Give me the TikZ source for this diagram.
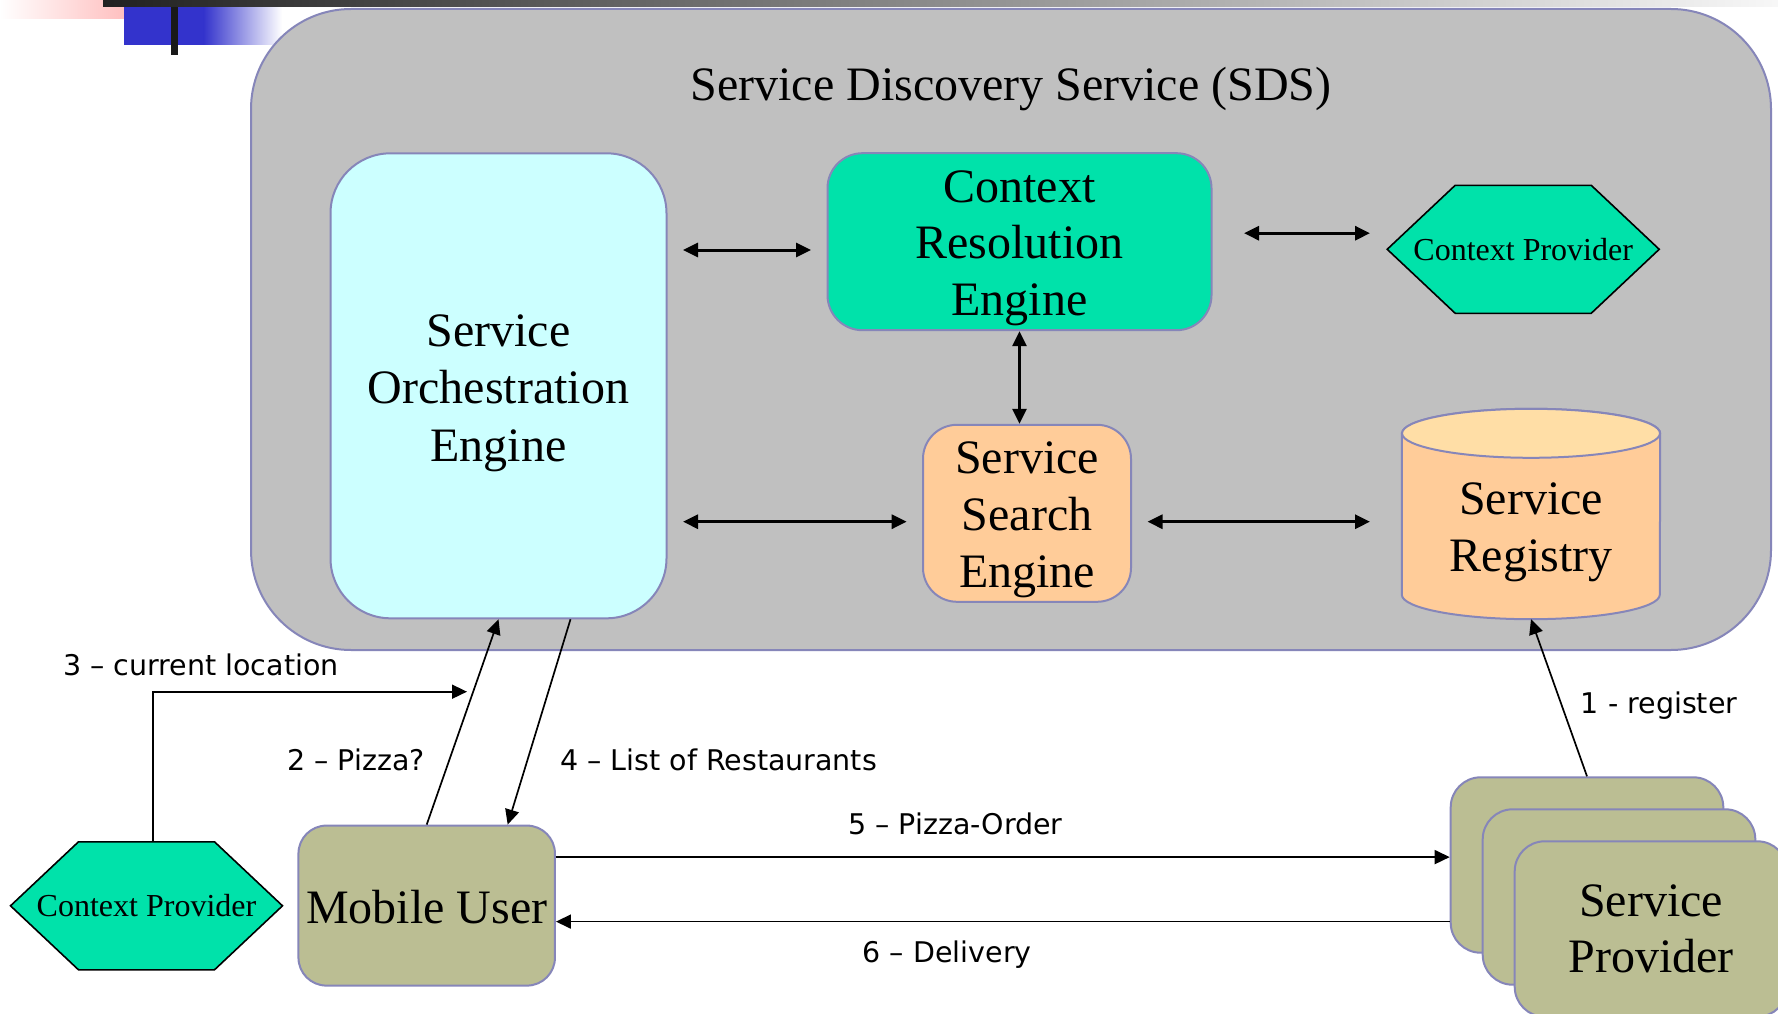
\documentclass[tikz,border=0pt]{standalone}
\usepackage{fontspec}
\setmainfont{Liberation Serif}
\newfontfamily\lblfont{DejaVu Sans}
\usetikzlibrary{arrows.meta}
\definecolor{sdsgray}{HTML}{C0C0C0}
\definecolor{edge}{HTML}{8686B9}
\definecolor{orchfill}{HTML}{CCFFFF}
\definecolor{mint}{HTML}{00E2AA}
\definecolor{peach}{HTML}{FFCC99}
\definecolor{peachtop}{HTML}{FFDEA6}
\definecolor{olive}{HTML}{BBBE93}
\definecolor{barblue}{HTML}{3333CC}
\definecolor{barpink}{HTML}{FFB0B0}

\begin{document}
\begin{tikzpicture}[x=1pt,y=-1pt,
  box/.style={draw=edge, line width=2pt, inner sep=0pt},
  big/.style={font=\fontsize{48}{57}\selectfont, align=center, inner sep=0pt},
  hexa/.style={fill=mint, draw=black, line width=1.6pt, line join=miter},
  hexlabel/.style={font=\fontsize{32}{38}\selectfont, inner sep=0pt,
    minimum width=272pt, minimum height=128pt, text height=21.4pt, text depth=0pt},
  lbl/.style={font=\lblfont\fontsize{28.5}{34}\selectfont, inner sep=0pt, anchor=base west},
  bus/.style={line width=3pt, {Triangle[length=15pt,width=14pt]}-{Triangle[length=15pt,width=14pt]}},
  msg/.style={line width=1.7pt, -{Triangle[length=15pt,width=14pt]}},
  card/.style={box, fill=olive, rounded corners=30pt, minimum width=272.6pt, minimum height=175.4pt},
]
\useasboundingbox (0,0) rectangle (1778,1014);
\clip (0,0) rectangle (1778,1014);
\fill[white] (0,0) rectangle (1778,1014);

% slide header ornament
\shade[left color=white, right color=barpink] (0,0) rectangle (156,19);
\fill[barblue] (124,7) rectangle (204,45);
\shade[left color=barblue, right color=white] (203.5,7) rectangle (282,45);
\shade[left color=black!87, right color=white!97!black] (103,0) rectangle (1778,7);
\fill[black!90] (171,7) rectangle (178,55);

% Service Discovery Service container
\node[box, fill=sdsgray, rounded corners=100pt, minimum width=1520pt, minimum height=641pt] (sds) at (1011,329.5) {};
\node[font=\fontsize{48}{57}\selectfont, anchor=base, inner sep=0pt] (title) at (1011,101) {Service Discovery Service (SDS)};

% engines
\node[box, fill=orchfill, rounded corners=60pt, minimum width=336pt, minimum height=465pt] (orch) at (498.5,385.8) {};
\node[big, font=\fontsize{48}{57.5}\selectfont] (orchT) at (498.5,393.1) {Service\\Orchestration\\Engine};

\node[box, fill=mint, rounded corners=35pt, minimum width=384pt, minimum height=177pt] (cre) at (1019.5,241.7) {};
\node[big, font=\fontsize{48}{56.7}\selectfont] (creT) at (1019.5,248.1) {Context\\Resolution\\Engine};

\node[box, fill=peach, rounded corners=34pt, minimum width=208pt, minimum height=177pt] (sse) at (1027,513.3) {};
\node[big, font=\fontsize{48}{56.7}\selectfont] (sseT) at (1027,519.7) {Service\\Search\\Engine};

% context provider inside the SDS
\coordinate (cpAc) at (1523.2,249.3);
\filldraw[hexa] (cpAc) ++(-136,0) -- ++(68,-64) -- ++(136,0) -- ++(68,64) -- ++(-68,64) -- ++(-136,0) -- cycle;
\node[hexlabel] (cpA) at (cpAc) {Context Provider};

% service registry (cylinder)
\node[inner sep=0pt, minimum width=258pt, minimum height=210pt] (reg) at (1531,514) {};
\filldraw[fill=peach, draw=edge, line width=2pt]
  ([yshift=-24.5pt]reg.north west) -- ([yshift=24.5pt]reg.south west)
  arc[start angle=180, end angle=360, x radius=129pt, y radius=24.5pt]
  -- ([yshift=-24.5pt]reg.north east)
  arc[start angle=0, end angle=180, x radius=129pt, y radius=24.5pt] -- cycle;
\filldraw[fill=peachtop, draw=edge, line width=2pt] ([yshift=-24.5pt]reg.north) ellipse[x radius=129pt, y radius=24.5pt];
\node[big, font=\fontsize{48}{56.7}\selectfont] (regT) at (1531,532.3) {Service\\Registry};

% outside actors
\coordinate (cpBc) at (146.5,905.8);
\filldraw[hexa] (cpBc) ++(-136,0) -- ++(68,-64) -- ++(136,0) -- ++(68,64) -- ++(-68,64) -- ++(-136,0) -- cycle;
\node[hexlabel] (cpB) at (cpBc) {Context Provider};

\node[box, fill=olive, rounded corners=28pt, minimum width=256.5pt, minimum height=160pt,
  font=\fontsize{48}{57}\selectfont, text height=35.4pt, text depth=0pt] (mu) at (426.7,905.6) {Mobile User};

\node[card] (spB) at (1587,865) {};
\node[card] (spM) at (1619,897) {};
\node[card] (spF) at (1651,929) {};
\node[big, font=\fontsize{48}{56.6}\selectfont] (spT) at (1651,928.9) {Service\\Provider};

% internal links
\coordinate (y1) at ([yshift=-8.3pt]cre.west);
\draw[bus, shorten <=15.5pt, shorten >=15.5pt] (orch.east |- y1) -- (y1);
\coordinate (y3) at ([yshift=8.5pt]cre.east);
\draw[bus, shorten <=31.5pt, shorten >=17pt] (y3) -- (y3 -| cpA.west);
\draw[bus] (cre.south) -- (cre.south |- sse.north);
\coordinate (y2) at ([yshift=-8.4pt]sse.east);
\draw[bus, shorten <=15.5pt, shorten >=15.3pt] (orch.east |- y2) -- (y2 -| sse.west);
\draw[bus, shorten <=15.5pt, shorten >=31.8pt] (y2) -- (y2 -| reg.west);

% message flow
\draw[msg] (mu.north) -- (orch.south);
\draw[msg] ([xshift=72pt]orch.south) -- ([xshift=81pt]mu.north);
\coordinate (locin) at (467,691.7);
\draw[msg] ([xshift=6.5pt]cpB.north) |- (locin);
\coordinate (y5) at ([yshift=48.5pt]mu.east);
\draw[msg] (y5) -- (y5 -| spB.west);
\coordinate (y6) at ([yshift=-16pt]mu.east);
\draw[msg] (y6 -| spB.west) -- (y6);
\draw[msg] (spB.north) -- (reg.south);

% step labels
\node[lbl] (l3) at (63,675) {3 – current location};
\node[lbl] (l2) at (287,770.7) {2 – Pizza?};
\node[lbl] (l4) at (560,770) {4 – List of Restaurants};
\node[lbl] (l5) at (848,834.3) {5 – Pizza-Order};
\node[lbl] (l6) at (862.6,962) {6 – Delivery};
\node[lbl] (l1) at (1580.7,713.3) {1 - register};
\end{tikzpicture}
\end{document}
